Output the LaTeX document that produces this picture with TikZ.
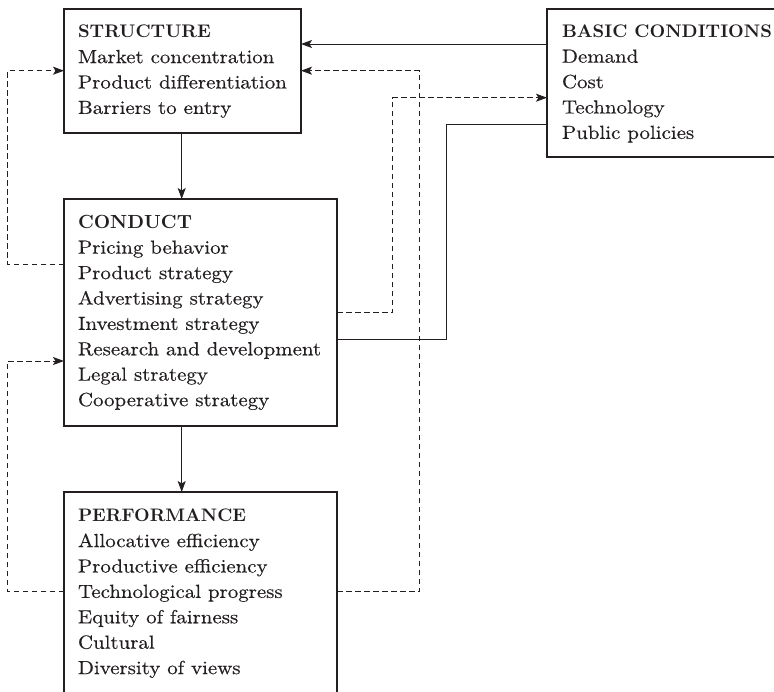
\documentclass[tikz,border=0pt]{standalone}
\usepackage{fontspec}
\usepackage{graphicx}
\setmainfont{lmroman10-regular}[Extension=.otf,FakeStretch=1.1,FakeBold=0.4]
\newfontfamily\headfont{lmroman10-bold}[Extension=.otf]
% headings are set to a fixed width
\newcommand{\headline}[2]{\resizebox{#1}{!}{\fontsize{18.3}{25.4}\selectfont\headfont #2}}
\usetikzlibrary{arrows.meta}
\definecolor{ink}{HTML}{231F20}
\begin{document}
\begin{tikzpicture}[x=1pt,y=-1pt,
  every node/.style={inner sep=0pt,outer sep=0pt},
  panel/.style={draw=ink,line width=1.1pt,anchor=north west},
  listing/.style={anchor=base west,text=ink,font=\fontsize{19}{25.4}\selectfont},
  link/.style={draw=ink,line width=1pt},
  arrowed/.style={link,-{Stealth[length=11pt,width=8pt,inset=2.5pt]}},
  dashline/.style={dash pattern=on 5.5pt off 3.5pt}]
\clip (0,0) rectangle (774,691);

% the four boxes
\node[panel,minimum width=237pt,minimum height=124pt] (structure) at (64,9) {};
\node[panel,minimum width=273pt,minimum height=227pt] (conduct) at (64,199) {};
\node[panel,minimum width=273pt,minimum height=230pt] (performance) at (64,492) {};
\node[panel,minimum width=262pt,minimum height=148pt] (basic) at (547,9) {};

% their contents
\node[listing] (structure-text) at (78,37.7) {\begin{tabular}[t]{@{}l@{}}
  \headline{133pt}{STRUCTURE}\\ Market concentration\\ Product differentiation\\ Barriers to entry
  \end{tabular}};
\node[listing] (conduct-text) at (78,228.3) {\begin{tabular}[t]{@{}l@{}}
  \headline{114pt}{CONDUCT}\\ Pricing behavior\\ Product strategy\\ Advertising strategy\\
  Investment strategy\\ Research and development\\ Legal strategy\\ Cooperative strategy
  \end{tabular}};
\node[listing] (performance-text) at (78,521.7) {\begin{tabular}[t]{@{}l@{}}
  \headline{168pt}{PERFORMANCE}\\ Allocative efficiency\\ Productive efficiency\\ Technological progress\\
  Equity of fairness\\ Cultural\\ Diversity of views
  \end{tabular}};
\node[listing] (basic-text) at (562,37.3) {\begin{tabular}[t]{@{}l@{}}
  \headline{210pt}{BASIC CONDITIONS}\\ Demand\\ Cost\\ Technology\\ Public policies
  \end{tabular}};

% routing lanes for the feedback lines
\coordinate (outer) at (7.5,0);
\coordinate (laneA) at (392.7,0);
\coordinate (laneB) at (419.3,0);
\coordinate (laneC) at (446,0);
\coordinate (spine) at (181.7,0);

% ports on the box sides
\coordinate (s-in1) at ([yshift=-35pt]structure.north east);
\coordinate (s-in2) at ([yshift=-61.7pt]structure.north east);
\coordinate (s-inL) at ([yshift=-61.7pt]structure.north west);
\coordinate (b-out) at ([yshift=-35pt]basic.north west);
\coordinate (b-in)  at ([yshift=-88.7pt]basic.north west);
\coordinate (b-out2) at ([yshift=-115pt]basic.north west);
\coordinate (c-outL) at ([yshift=-65pt]conduct.north west);
\coordinate (c-inL) at ([yshift=-162pt]conduct.north west);
\coordinate (c-outR) at ([yshift=-113.7pt]conduct.north east);
\coordinate (c-outR2) at ([yshift=-140pt]conduct.north east);
\coordinate (p-outL) at ([yshift=-99.7pt]performance.north west);
\coordinate (p-outR) at ([yshift=-99.7pt]performance.north east);

% main chain
\draw[arrowed] (structure.south -| spine) -- (conduct.north -| spine);
\draw[arrowed] (conduct.south -| spine) -- (performance.north -| spine);
\draw[arrowed] (b-out) -- (s-in1);

% feedback lines
\draw[arrowed,dashline] (c-outL) -| (outer |- s-inL) -- (s-inL);
\draw[arrowed,dashline] (p-outL) -| (outer |- c-inL) -- (c-inL);
\draw[arrowed,dashline] (p-outR) -| (laneB |- s-in2) -- (s-in2);
\draw[arrowed,dashline] (c-outR) -| (laneA |- b-in) -- (b-in);
\draw[link] (b-out2) -| (laneC |- c-outR2) -- (c-outR2);
\end{tikzpicture}
\end{document}
